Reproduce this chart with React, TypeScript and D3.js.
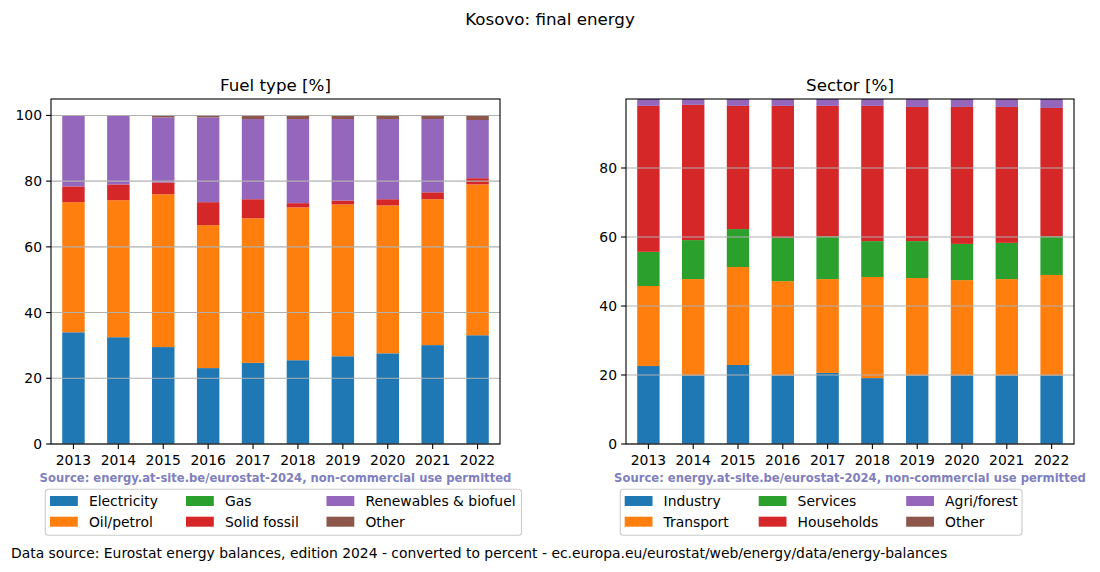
import React from "react";
import * as d3 from "d3";

const years = ["2013", "2014", "2015", "2016", "2017", "2018", "2019", "2020", "2021", "2022"];

// Fuel type [%]
const fuelKeys = ["Electricity", "Oil/petrol", "Gas", "Solid fossil", "Renewables & biofuel", "Other"];
const electricity = [34.0, 32.5, 29.5, 23.1, 24.7, 25.5, 26.7, 27.6, 30.1, 33.1];
const oilPetrol = [39.6, 41.7, 46.5, 43.5, 44.0, 46.5, 46.2, 45.0, 44.4, 45.9];
const gas = [0, 0, 0, 0, 0, 0, 0, 0, 0, 0];
const solidFossil = [4.8, 4.8, 3.6, 7.0, 5.8, 1.3, 1.2, 1.9, 2.1, 1.9];
const renewables = [21.6, 21.0, 19.8, 25.8, 24.4, 25.6, 24.8, 24.4, 22.3, 17.7];
const fuelOther = [0, 0, 0.6, 0.6, 1.1, 1.1, 1.1, 1.1, 1.1, 1.4];

// Sector [%]
const sectorKeys = ["Industry", "Transport", "Services", "Households", "Agri/forest", "Other"];
const industry = [22.6, 19.9, 22.9, 19.9, 20.6, 19.1, 19.9, 19.9, 19.9, 19.9];
const transport = [23.2, 27.9, 28.4, 27.3, 27.2, 29.3, 28.2, 27.6, 27.9, 29.1];
const services = [9.9, 11.3, 11.0, 12.6, 12.4, 10.4, 10.7, 10.5, 10.5, 11.2];
const households = [42.3, 39.2, 35.7, 38.2, 37.8, 39.2, 38.9, 39.7, 39.4, 37.2];
const agriForest = [2.0, 1.7, 2.0, 2.0, 2.0, 2.0, 2.3, 2.3, 2.3, 2.6];
const sectorOther = [0, 0, 0, 0, 0, 0, 0, 0, 0, 0];

const yTicksLeft = [0, 20, 40, 60, 80, 100];
const yTicksRight = [0, 20, 40, 60, 80];

const colors = ["#1f77b4", "#ff7f0e", "#2ca02c", "#d62728", "#9467bd", "#8c564b"];

const FONT = "DejaVu Sans, sans-serif";

type PanelProps = {
  title: string;
  keys: string[];
  series: number[][];
  yMax: number;
  yTicks: number[];
  left: number;
  right: number;
  legendBox: [number, number];
  legendCols: number[];
};

function Panel({ title, keys, series, yMax, yTicks, left, right, legendBox, legendCols }: PanelProps) {
  const top = 99;
  const bottom = 444;
  const x = d3.scaleLinear().domain([-0.5, years.length - 0.5]).range([left, right]);
  const y = d3.scaleLinear().domain([0, yMax]).range([bottom, top]);
  const rows = years.map((yr, i) => {
    const r: Record<string, number | string> = { year: yr };
    keys.forEach((k, j) => (r[k] = series[j][i]));
    return r;
  });
  const stacked = d3.stack<any>().keys(keys)(rows as any);
  const cx = (left + right) / 2;
  return (
    <g>
      {stacked.map((layer, j) => (
        <g key={keys[j]} fill={colors[j]}>
          {layer.map((d, i) => {
            const h = y(d[0]) - y(d[1]);
            if (h <= 0) return null;
            return (
              <rect
                key={i}
                x={x(i - 0.25)}
                width={x(i + 0.25) - x(i - 0.25)}
                y={y(d[1])}
                height={h}
              />
            );
          })}
        </g>
      ))}
      {yTicks.map((t) => (
        <line key={"g" + t} x1={left} x2={right} y1={y(t)} y2={y(t)} stroke="#b0b0b0" strokeWidth={1.1} />
      ))}
      <rect x={left} y={top} width={right - left} height={bottom - top} fill="none" stroke="#000" strokeWidth={1.1} />
      {yTicks.map((t) => (
        <g key={"t" + t}>
          <line x1={left - 4.9} x2={left} y1={y(t)} y2={y(t)} stroke="#000" strokeWidth={1.1} />
          <text x={left - 9} y={y(t)} dy="0.36em" textAnchor="end" fontSize={13.9} fontFamily={FONT}>
            {t}
          </text>
        </g>
      ))}
      {years.map((yr, i) => (
        <g key={yr}>
          <line x1={x(i)} x2={x(i)} y1={bottom} y2={bottom + 4.9} stroke="#000" strokeWidth={1.1} />
          <text x={x(i)} y={465} textAnchor="middle" fontSize={13.9} fontFamily={FONT}>
            {yr}
          </text>
        </g>
      ))}
      <text x={cx} y={90.7} textAnchor="middle" fontSize={16.7} fontFamily={FONT}>
        {title}
      </text>
      <text x={cx} y={481.5} textAnchor="middle" fontSize={11.6} fontWeight="bold" fill="#7f7fc0" fontFamily={FONT}>
        Source: energy.at-site.be/eurostat-2024, non-commercial use permitted
      </text>
      <rect
        x={legendBox[0]}
        y={489.3}
        width={legendBox[1] - legendBox[0]}
        height={46}
        rx={3}
        fill="#fff"
        fillOpacity={0.8}
        stroke="#cccccc"
        strokeWidth={1.1}
      />
      {keys.map((k, j) => {
        const col = Math.floor(j / 2);
        const row = j % 2;
        const px = legendCols[col];
        const py = row === 0 ? 496 : 516.7;
        return (
          <g key={"l" + k}>
            <rect x={px} y={py} width={27.8} height={10} fill={colors[j]} />
            <text x={px + 38.9} y={py + 10} fontSize={13.9} fontFamily={FONT}>
              {k}
            </text>
          </g>
        );
      })}
    </g>
  );
}

export default function App() {
  return (
    <svg
      width={1100}
      height={572}
      style={{ position: "absolute", left: 0, top: 0, background: "#fff" }}
      fontFamily={FONT}
    >
      <rect width={1100} height={572} fill="#fff" />
      <text x={550} y={25} textAnchor="middle" fontSize={16.7} fontFamily={FONT}>
        Kosovo: final energy
      </text>
      <Panel
        title="Fuel type [%]"
        keys={fuelKeys}
        series={[electricity, oilPetrol, gas, solidFossil, renewables, fuelOther]}
        yMax={105}
        yTicks={yTicksLeft}
        left={51}
        right={500}
        legendBox={[45.3, 521.5]}
        legendCols={[50, 186, 326.5]}
      />
      <Panel
        title="Sector [%]"
        keys={sectorKeys}
        series={[industry, transport, services, households, agriForest, sectorOther]}
        yMax={100}
        yTicks={yTicksRight}
        left={626}
        right={1074}
        legendBox={[620.3, 1022]}
        legendCols={[624.7, 758.7, 906.2]}
      />
      <text x={11} y={558} fontSize={13.9} fontFamily={FONT}>
        Data source: Eurostat energy balances, edition 2024 - converted to percent - ec.europa.eu/eurostat/web/energy/data/energy-balances
      </text>
    </svg>
  );
}
